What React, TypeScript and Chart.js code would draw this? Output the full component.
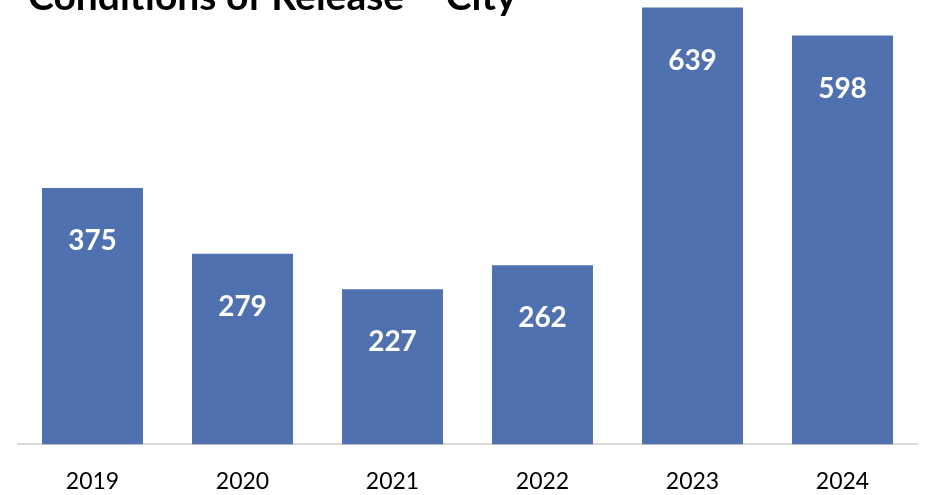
import React, { useEffect, useRef } from "react";
import { Chart, registerables } from "chart.js";

Chart.register(...registerables);

const categories = ["2019", "2020", "2021", "2022", "2023", "2024"];
const values = [375, 279, 227, 262, 639, 598];
const titleText = "Conditions of Release \u2013 City";

const FONT = "Lato, 'Open Sans', sans-serif";

const overlayPlugin = {
  id: "overlay",
  afterDatasetsDraw(chart: any) {
    const ctx = chart.ctx;
    const meta = chart.getDatasetMeta(0);
    ctx.save();
    ctx.fillStyle = "#ffffff";
    ctx.font = `bold 28px ${FONT}`;
    ctx.textAlign = "center";
    ctx.textBaseline = "middle";
    meta.data.forEach((bar: any, i: number) => {
      ctx.fillText(String(values[i]), bar.x, bar.y + 53);
    });
    ctx.fillStyle = "#000000";
    ctx.font = `bold 39px ${FONT}`;
    ctx.textAlign = "left";
    ctx.textBaseline = "alphabetic";
    ctx.fillText(titleText, 28, 10);
    ctx.restore();
  },
};

export default function App() {
  const ref = useRef<HTMLCanvasElement>(null);
  useEffect(() => {
    if (!ref.current) return;
    const chart = new Chart(ref.current, {
      type: "bar",
      data: {
        labels: categories,
        datasets: [
          {
            data: values,
            backgroundColor: "#4F71AF",
            barPercentage: 0.673,
            categoryPercentage: 1,
          },
        ],
      },
      options: {
        animation: false,
        responsive: false,
        maintainAspectRatio: false,
        layout: { padding: { left: 17.5, right: 10.5, top: 0, bottom: -23 } },
        plugins: { legend: { display: false }, title: { display: false }, tooltip: { enabled: false } },
        scales: {
          y: { display: false, min: 0, max: 650 },
          x: {
            grid: { display: false, drawTicks: false },
            border: { display: true, color: "#d9d9d9", width: 2 },
            ticks: { color: "#000000", font: { family: FONT, size: 23 }, padding: 23 },
          },
        },
      },
      plugins: [overlayPlugin],
    });
    return () => chart.destroy();
  }, []);
  return (
    <div style={{ position: "fixed", left: 0, top: 0, width: 928, height: 495, background: "#fff" }}>
      <canvas ref={ref} width={928} height={495} style={{ width: 928, height: 495 }} />
    </div>
  );
}
